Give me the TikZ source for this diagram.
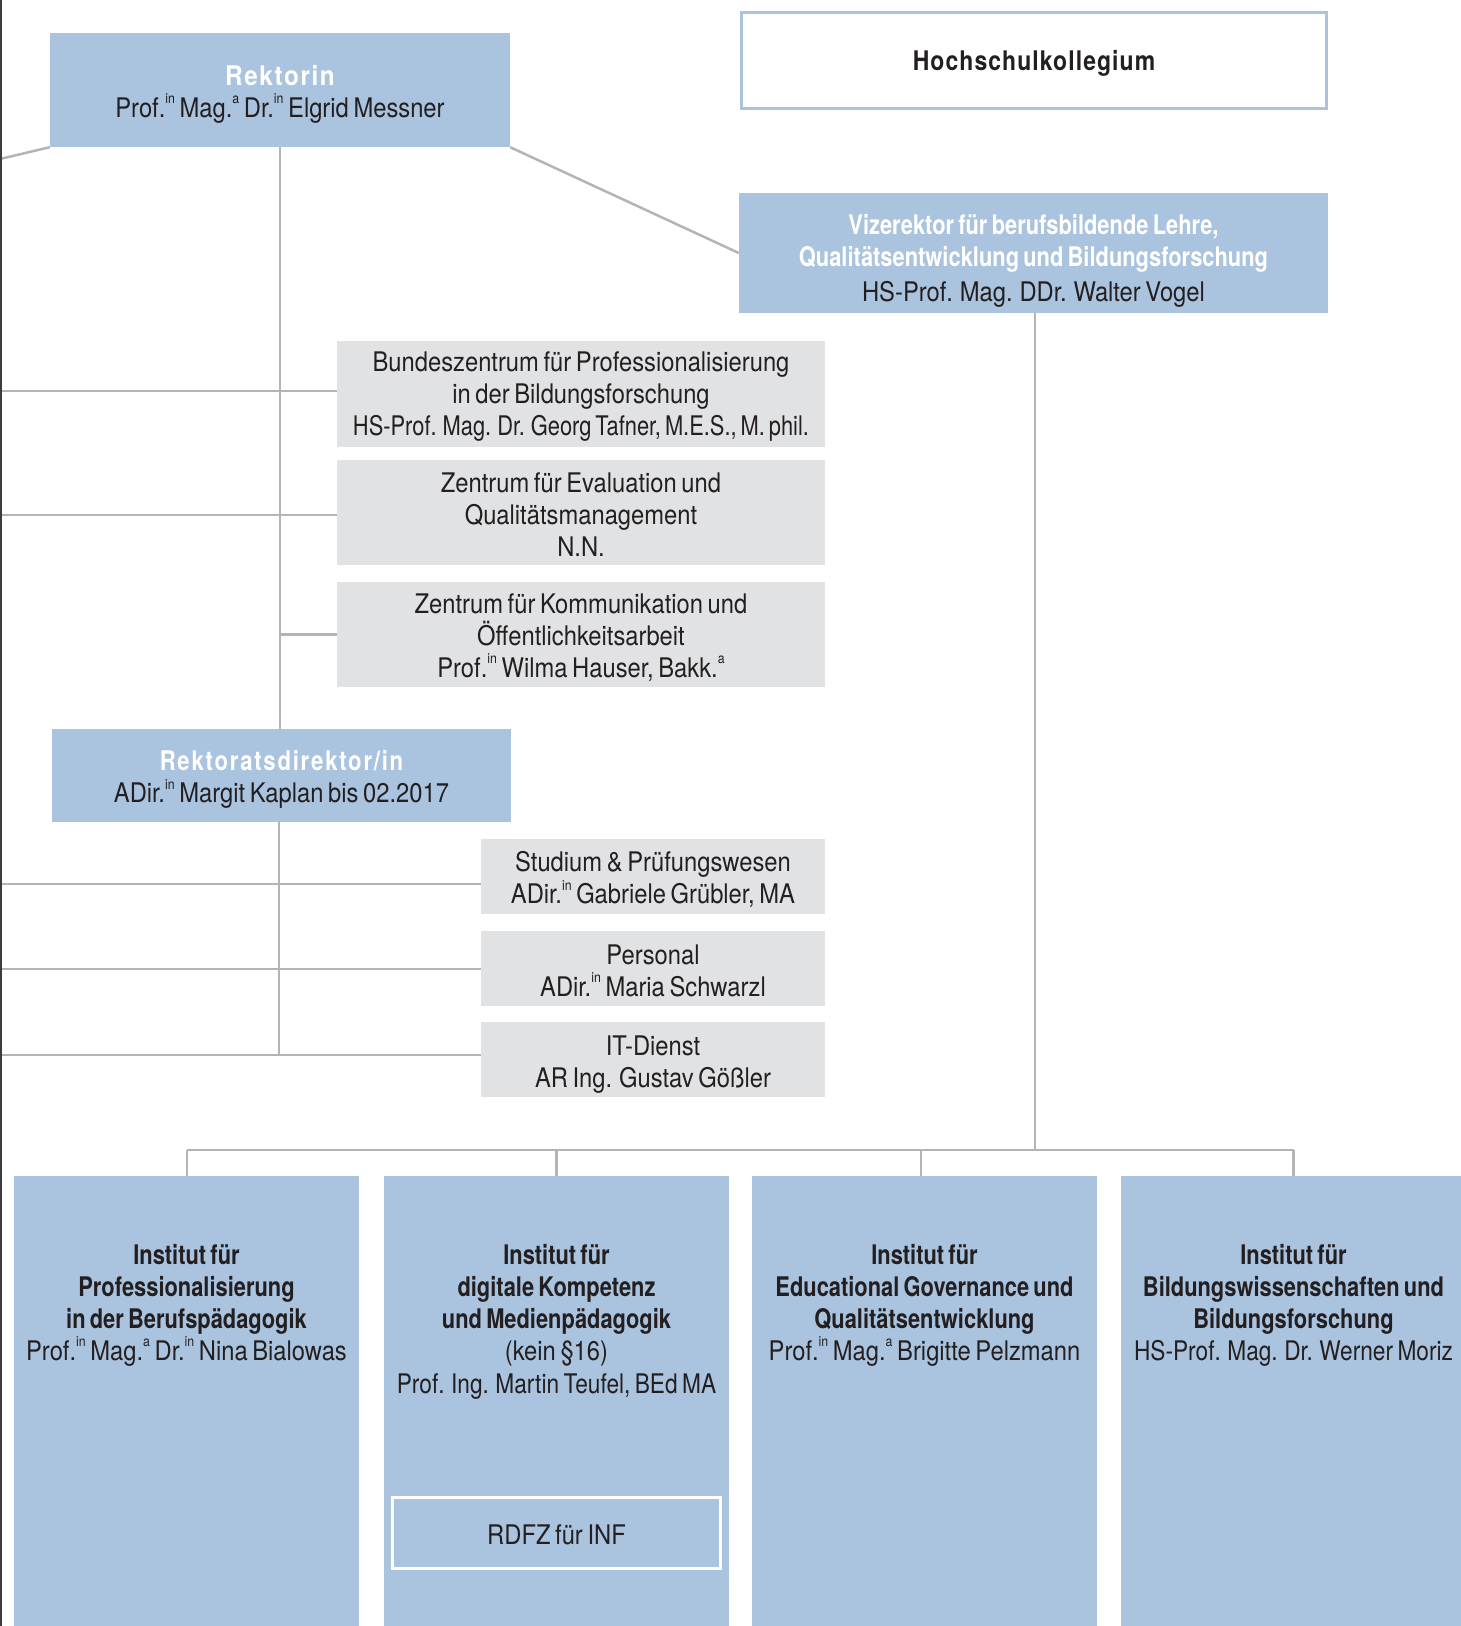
\documentclass[tikz,border=0pt]{standalone}
\usepackage{fontspec}
\setmainfont{TeX Gyre Heros}[FakeStretch=0.88,WordSpace=0.7,BoldFeatures={FakeStretch=0.81}]
\newfontfamily\narrowA{TeX Gyre Heros}[FakeStretch=0.84,WordSpace=0.7]
\newfontfamily\narrowB{TeX Gyre Heros}[FakeStretch=0.81,WordSpace=0.65]
\newfontfamily\trackfont{TeX Gyre Heros}[FakeStretch=0.9,LetterSpace=6]
\newfontfamily\hkfont{TeX Gyre Heros}[FakeStretch=0.85,LetterSpace=4]
\newfontfamily\rdfont{TeX Gyre Heros}[FakeStretch=0.82,LetterSpace=6.5]
\definecolor{myblue}{RGB}{170,195,222}
\definecolor{mygray}{RGB}{225,226,228}
\definecolor{linegray}{RGB}{180,180,180}
\definecolor{mydark}{RGB}{35,31,32}
\definecolor{framedark}{RGB}{60,60,60}
\newcommand\su[1]{\raisebox{0.5em}{\fontsize{14}{14}\selectfont #1}}
\newcommand\wb[1]{{\color{white}\bfseries #1}}
\tikzset{
  bluebox/.style={fill=myblue, inner sep=0pt},
  graybox/.style={fill=mygray, inner sep=0pt},
  boxtext/.style={inner sep=0pt, align=center, text=mydark},
  instbox/.style={fill=myblue, inner sep=0pt, minimum width=345pt, minimum height=500pt, anchor=north},
  insttext/.style={inner sep=0pt, align=center, text=mydark, anchor=north},
  conn/.style={draw=linegray, line width=2.5pt},
}
\begin{document}
\begin{tikzpicture}[x=1pt,y=-1pt,font=\fontsize{27}{32}\selectfont]
\useasboundingbox (0,0) rectangle (1461,1626);
\begin{scope}
\clip (0,0) rectangle (1461,1626);
% boxes
\node[bluebox, minimum width=460pt, minimum height=114pt] (rek) at (280,90) {};
\node[boxtext] (rekt) at ([yshift=-4pt]rek.center)
  {{\trackfont\bfseries\color{white}Rektorin}\\Prof.\su{in} Mag.\su{a} Dr.\su{in} Elgrid Messner};
\node[draw=myblue, line width=2.5pt, fill=white, inner sep=0pt,
  minimum width=585pt, minimum height=96pt] (hk) at (1034,60.5) {};
\node[boxtext] (hkt) at ([yshift=-3pt]hk.center) {\hkfont\bfseries Hochschulkollegium};
\node[bluebox, minimum width=589pt, minimum height=120pt] (vr) at (1033.5,253) {};
\node[boxtext] (vrt) at ([yshift=-8pt]vr.center)
  {\wb{Vizerektor für berufsbildende Lehre,}\\\wb{Qualitätsentwicklung und Bildungsforschung}\\[3pt]HS-Prof. Mag. DDr. Walter Vogel};
\node[graybox, minimum width=488pt, minimum height=106pt] (bz) at (581,394) {};
\node[boxtext] (bzt) at ([yshift=-3pt]bz.center)
  {Bundeszentrum für Professionalisierung\\in der Bildungsforschung\\{\narrowB HS-Prof. Mag. Dr. Georg Tafner, M.E.S., M. phil.}};
\node[graybox, minimum width=488pt, minimum height=105pt] (ze) at (581,512.5) {};
\node[boxtext] (zet) at ([yshift=-2pt]ze.center)
  {Zentrum für Evaluation und\\Qualitätsmanagement\\N.N.};
\node[graybox, minimum width=488pt, minimum height=105pt] (zk) at (581,634.5) {};
\node[boxtext] (zkt) at ([yshift=-3pt]zk.center)
  {Zentrum für Kommunikation und\\Öffentlichkeitsarbeit\\Prof.\su{in} Wilma Hauser, Bakk.\su{a}};
\node[bluebox, minimum width=459pt, minimum height=93pt] (rd) at (281.5,775.5) {};
\node[boxtext] (rdt) at ([yshift=-4pt]rd.center)
  {{\rdfont\bfseries\color{white}Rektoratsdirektor/in}\\ADir.\su{in} Margit Kaplan bis 02.2017};
\node[graybox, minimum width=344pt, minimum height=75pt] (sp) at (653,876.5) {};
\node[boxtext] (spt) at ([yshift=-3pt]sp.center)
  {Studium \& Prüfungswesen\\ADir.\su{in} Gabriele Grübler, MA};
\node[graybox, minimum width=344pt, minimum height=75pt] (pe) at (653,968.5) {};
\node[boxtext] (pet) at ([yshift=-2pt]pe.center)
  {Personal\\ADir.\su{in} Maria Schwarzl};
\node[graybox, minimum width=344pt, minimum height=75pt] (it) at (653,1059.5) {};
\node[boxtext] (itt) at ([yshift=-5pt]it.center)
  {IT-Dienst\\AR Ing. Gustav Gößler};
% institutes
\node[instbox] (i1) at (186.5,1176) {};
\node[instbox] (i2) at (556.5,1176) {};
\node[instbox] (i3) at (924.5,1176) {};
\node[instbox] (i4) at (1293.5,1176) {};
\node[insttext] (i1t) at (186.5,1244)
  {\textbf{Institut für}\\\textbf{Professionalisierung}\\\textbf{in der Berufspädagogik}\\Prof.\su{in} Mag.\su{a} Dr.\su{in} Nina Bialowas};
\node[insttext] (i2t) at (556.5,1244)
  {\textbf{Institut für}\\\textbf{digitale Kompetenz}\\\textbf{und Medienpädagogik}\\(kein §16)\\[1pt]{\narrowA Prof. Ing. Martin Teufel, BEd MA}};
\node[insttext] (i3t) at (924.5,1244)
  {\textbf{Institut für}\\\textbf{Educational Governance und}\\\textbf{Qualitätsentwicklung}\\Prof.\su{in} Mag.\su{a} Brigitte Pelzmann};
\node[insttext] (i4t) at (1293.5,1244)
  {\textbf{Institut für}\\\textbf{Bildungswissenschaften und}\\\textbf{Bildungsforschung}\\{\narrowA HS-Prof. Mag. Dr. Werner Moriz}};
\node[draw=white, line width=2.5pt, inner sep=0pt,
  minimum width=328pt, minimum height=71pt] (rdfz) at (556.5,1533) {};
\node[boxtext] (rdfzt) at ([yshift=-2pt]rdfz.center) {RDFZ für INF};
% connectors
\coordinate (l0) at (0,159);
\coordinate (l1) at (0,391);
\coordinate (l2) at (0,515);
\coordinate (l3) at (0,884);
\coordinate (l4) at (0,969);
\coordinate (l5) at (0,1055);
\coordinate (bus) at (1035,1150);
\coordinate (b1) at (187,1150);
\coordinate (b2) at (556.5,1150);
\coordinate (b3) at (921,1150);
\coordinate (b4) at (1293.5,1150);
\draw[conn] (l0) -- (rek.south west);
\draw[conn] (rek.south east) -- (vr.west);
\draw[conn] (rek.south) -- (rd.north -| rek.south);
\draw[conn] (l1) -- (l1 -| bz.west);
\draw[conn] (l2) -- (l2 -| ze.west);
\draw[conn] (zk.west -| rek.south) -- (zk.west);
\draw[conn] (rd.south -| 279,0) -- (279,1055);
\draw[conn] (l3) -- (l3 -| sp.west);
\draw[conn] (l4) -- (l4 -| pe.west);
\draw[conn] (l5) -- (l5 -| it.west);
\draw[conn] (vr.south -| bus) -- (bus);
\draw[conn] (b1) -- (b4);
\draw[conn] (b1) -- (b1 |- i1.north);
\draw[conn] (b2) -- (b2 |- i2.north);
\draw[conn] (b3) -- (b3 |- i3.north);
\draw[conn] (b4) -- (b4 |- i4.north);
\draw[framedark, line width=1.5pt] (1,0) -- (1,1626);
\end{scope}
\end{tikzpicture}
\end{document}
